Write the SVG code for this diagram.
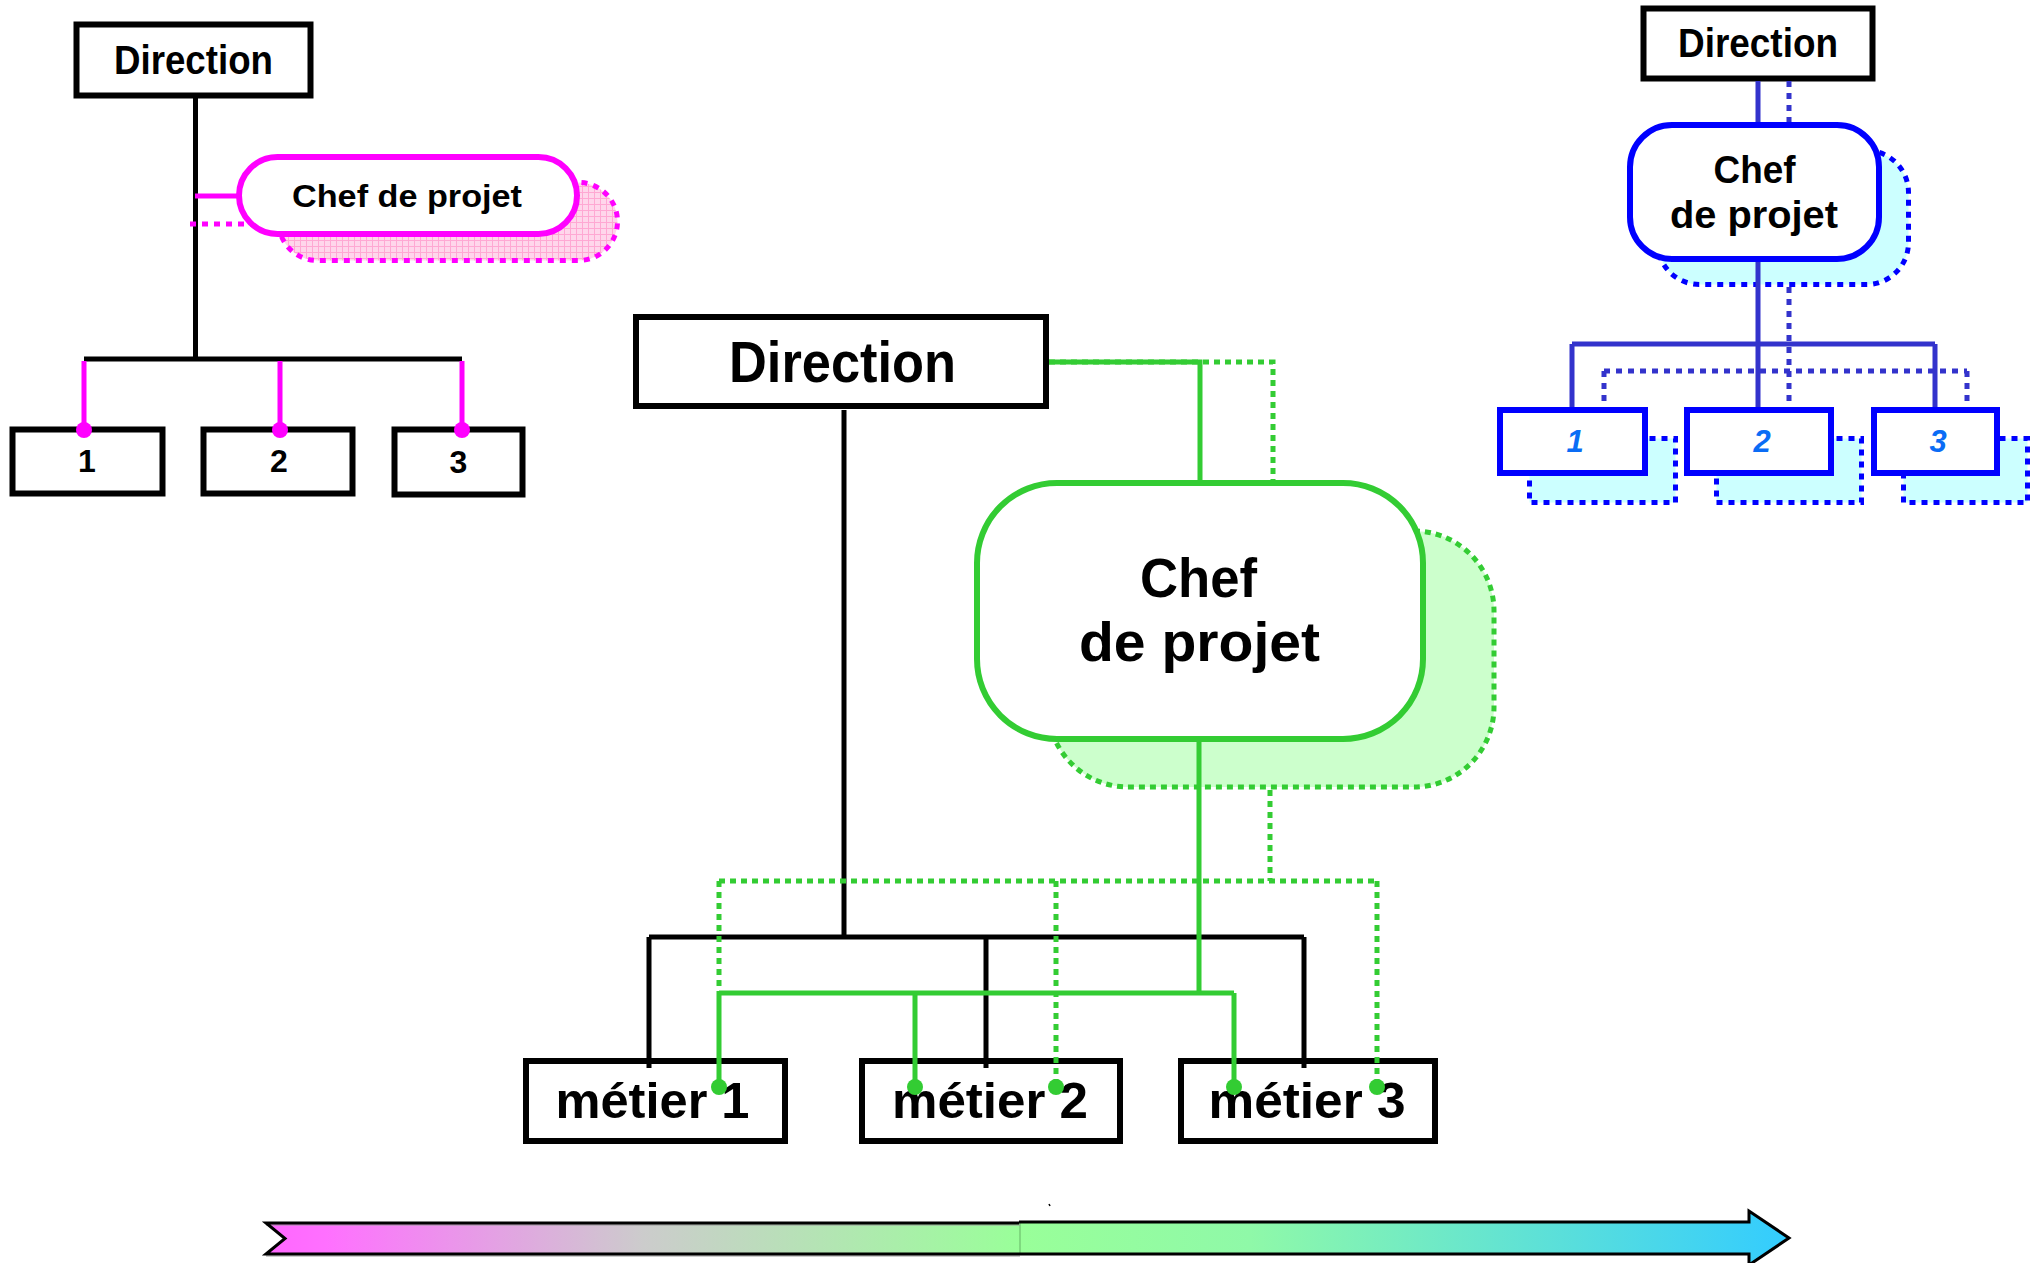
<svg xmlns="http://www.w3.org/2000/svg" width="2039" height="1263" viewBox="0 0 2039 1263">
<style>
text{font-family:"Liberation Sans","DejaVu Sans",sans-serif;font-weight:bold;fill:#000;text-anchor:middle}
.box{fill:#fff;stroke:#000;stroke-width:6}
.bbox{fill:#fff;stroke:#0000FF;stroke-width:6}
.bshadow{fill:#CCFFFF;stroke:#0000FF;stroke-width:5;stroke-dasharray:6 6}
.gshadow{fill:#CCFFCC;stroke:#33CC33;stroke-width:5;stroke-dasharray:6 5}
.pshadow{fill:url(#pinkgrid);stroke:#FF00FF;stroke-width:5;stroke-dasharray:6 6}
.k{stroke:#000;stroke-width:5;fill:none}
.p{stroke:#FF00FF;stroke-width:5;fill:none}
.pd{stroke:#FF00FF;stroke-width:5;fill:none;stroke-dasharray:6 6}
.b{stroke:#3333CC;stroke-width:5;fill:none}
.bd{stroke:#3333CC;stroke-width:5;fill:none;stroke-dasharray:6 6}
.g{stroke:#33CC33;stroke-width:5;fill:none}
.gd{stroke:#33CC33;stroke-width:5;fill:none;stroke-dasharray:6 5}
.bn{fill:#0A6CF5;font-style:italic}
</style>
<defs>
<pattern id="pinkgrid" width="6" height="6" patternUnits="userSpaceOnUse">
<rect width="6" height="6" fill="#FFD6EB"/>
<path d="M0 0.5H6M0.5 0V6" stroke="#FFA8D3" stroke-width="1"/>
</pattern>
<linearGradient id="gl" x1="0" y1="0" x2="1" y2="0">
<stop offset="0" stop-color="#FF66FF"/>
<stop offset="0.08" stop-color="#FF70FF"/>
<stop offset="0.5" stop-color="#CCCCCC"/>
<stop offset="1" stop-color="#99FF99"/>
</linearGradient>
<linearGradient id="gr" x1="0" y1="0" x2="1" y2="0">
<stop offset="0" stop-color="#99FF99"/>
<stop offset="0.3" stop-color="#8FF9A8"/>
<stop offset="1" stop-color="#33CCFF"/>
</linearGradient>
</defs>

<!-- Left diagram -->
<g id="left-direction">
<rect class="box" x="76.5" y="24.5" width="234" height="71" stroke-width="5"/>
<text x="193.5" y="74" font-size="40" textLength="159" lengthAdjust="spacingAndGlyphs">Direction</text>
</g>
<g id="left-chef">
<rect class="pshadow" x="278.5" y="182.5" width="339" height="78" rx="39"/>
<rect fill="#fff" stroke="#FF00FF" stroke-width="6" x="239" y="157" width="338" height="77" rx="38.5"/>
<text x="407" y="207" font-size="32" textLength="230" lengthAdjust="spacingAndGlyphs">Chef de projet</text>
</g>
<g id="left-1">
<rect class="box" x="12.5" y="429.5" width="150" height="64" stroke-width="5"/>
<text x="87" y="472" font-size="32">1</text>
</g>
<g id="left-2">
<rect class="box" x="203.5" y="429.5" width="149" height="64" stroke-width="5"/>
<text x="279" y="472" font-size="32">2</text>
</g>
<g id="left-3">
<rect class="box" x="394.5" y="429.5" width="128" height="65" stroke-width="5"/>
<text x="458.5" y="473" font-size="32">3</text>
</g>

<!-- Right diagram -->
<g id="right-direction">
<rect class="box" x="1643.5" y="8.5" width="229" height="70" stroke-width="5"/>
<text x="1758" y="57" font-size="40" textLength="160" lengthAdjust="spacingAndGlyphs">Direction</text>
</g>
<g id="right-chef">
<rect class="bshadow" x="1657.5" y="150.5" width="251" height="134" rx="42"/>
<rect class="bbox" x="1630" y="125" width="249" height="134" rx="42"/>
<text x="1754.5" y="183" font-size="39" textLength="82" lengthAdjust="spacingAndGlyphs">Chef</text>
<text x="1754" y="228" font-size="39" textLength="168" lengthAdjust="spacingAndGlyphs">de projet</text>
</g>
<g id="right-1">
<rect class="bshadow" x="1529.5" y="438.5" width="146" height="64"/>
<rect class="bbox" x="1500" y="410" width="145" height="63"/>
<text class="bn" x="1575" y="452" font-size="31">1</text>
</g>
<g id="right-2">
<rect class="bshadow" x="1716.5" y="438.5" width="145" height="64"/>
<rect class="bbox" x="1687" y="410" width="144" height="63"/>
<text class="bn" x="1762" y="452" font-size="31">2</text>
</g>
<g id="right-3">
<rect class="bshadow" x="1903.5" y="438.5" width="124" height="64"/>
<rect class="bbox" x="1874" y="410" width="123" height="63"/>
<text class="bn" x="1938" y="452" font-size="31">3</text>
</g>

<!-- Middle diagram -->
<g id="mid-direction">
<rect class="box" x="636" y="317" width="410" height="89"/>
<text x="842.5" y="382" font-size="58" textLength="227" lengthAdjust="spacingAndGlyphs">Direction</text>
</g>
<g id="mid-chef">
<rect class="gshadow" x="1048" y="531" width="446" height="256" rx="80"/>
<rect fill="#fff" stroke="#33CC33" stroke-width="6" x="977" y="483" width="446" height="256" rx="80"/>
<text x="1198.5" y="597" font-size="56" textLength="117" lengthAdjust="spacingAndGlyphs">Chef</text>
<text x="1199.5" y="661" font-size="56" textLength="241" lengthAdjust="spacingAndGlyphs">de projet</text>
</g>
<g id="metier-1">
<rect class="box" x="526" y="1061" width="259" height="80"/>
<text x="652.5" y="1118" font-size="50" textLength="194" lengthAdjust="spacingAndGlyphs">métier 1</text>
</g>
<g id="metier-2">
<rect class="box" x="862" y="1061" width="258" height="80"/>
<text x="990" y="1118" font-size="50" textLength="196" lengthAdjust="spacingAndGlyphs">métier 2</text>
</g>
<g id="metier-3">
<rect class="box" x="1181" y="1061" width="254" height="80"/>
<text x="1307" y="1118" font-size="50" textLength="197" lengthAdjust="spacingAndGlyphs">métier 3</text>
</g>

<g id="connectors">
<!-- left -->
<path class="k" d="M195.5 96V359M84 359H462"/>
<path class="p" d="M195 196H237"/>
<path class="pd" d="M190 224H251"/>
<path class="p" d="M84 361V430M280 361V430M462 361V430"/>
<g fill="#FF00FF">
<circle cx="84" cy="430" r="8"/><circle cx="280" cy="430" r="8"/><circle cx="462" cy="430" r="8"/>
</g>
<!-- right -->
<path class="b" d="M1758 81V122M1758 262V344M1572 344H1935M1572 344V407M1758 344V407M1935 344V407"/>
<path class="bd" d="M1789 81V122M1789 287V407M1604 371H1967M1604 371V407M1967 371V407"/>
<!-- middle black -->
<path class="k" d="M844 410V937M649 937H1304M649 937V1068M986 937V1068M1304 937V1068"/>
<!-- middle green -->
<path class="gd" d="M1049 362H1273V480"/>
<path class="g" d="M1049 362H1200V480"/>
<path class="gd" d="M1270 790V881M719 881H1377M719 881V993M1056 881V1087M1377 881V1087"/>
<path class="g" d="M1199 742V993M719 993H1234M719 993V1087M915 993V1087M1234 993V1087"/>
<g fill="#33CC33">
<circle cx="719" cy="1087" r="8"/><circle cx="915" cy="1087" r="8"/><circle cx="1234" cy="1087" r="8"/>
<circle cx="1056" cy="1087" r="8"/><circle cx="1377" cy="1087" r="8"/>
</g>
</g>

<!-- timeline arrow -->
<g id="arrow">
<polygon points="266,1223 1021,1223 1021,1254 266,1254 285,1238.5" fill="url(#gl)"/>
<polygon points="1019,1222 1749,1222 1749,1211 1789,1238 1749,1265 1749,1254 1019,1254" fill="url(#gr)"/>
<path d="M1020 1223V1254" stroke="#77CC77" stroke-width="1.5"/>
<path d="M266 1254H1020M266 1223H1020" stroke="#999" stroke-width="1" transform="translate(0,2)"/>
<path d="M1019 1222H1749V1211L1789 1238L1749 1265V1254H266L285 1238.5L266 1223H1019" fill="none" stroke="#000" stroke-width="3" stroke-linejoin="miter"/>
</g>
<path d="M1049 1204L1050 1206" stroke="#000" stroke-width="1.5"/>
</svg>
